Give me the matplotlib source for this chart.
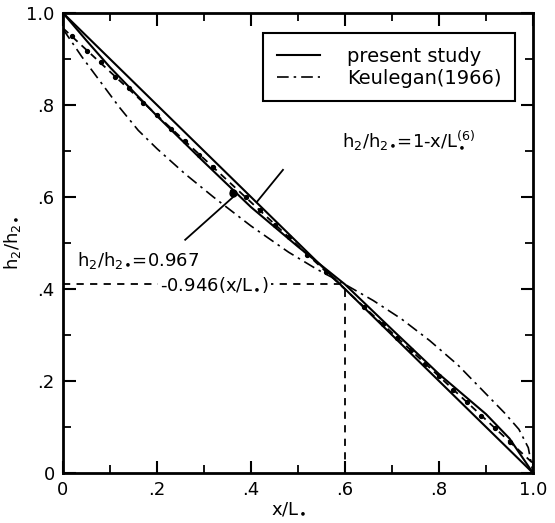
import matplotlib
matplotlib.use("Agg")
import matplotlib.pyplot as plt
import numpy as np

plt.rcParams['font.family'] = ['DejaVu Sans']
plt.rcParams['mathtext.default'] = 'regular'

# ---- data ----
x_present = [0.0, 0.05, 0.10, 0.20, 0.30, 0.40, 0.50, 0.60, 0.70, 0.80, 0.90, 0.95, 1.0]
y_present = [1.0, 0.94, 0.882, 0.776, 0.676, 0.578, 0.492, 0.41, 0.312, 0.215, 0.128, 0.075, 0.0]

x_keulegan = [0.0, 0.04, 0.08, 0.12, 0.16, 0.20, 0.26, 0.32, 0.40, 0.48, 0.54, 0.60,
              0.66, 0.72, 0.78, 0.84, 0.90, 0.94, 0.97, 0.99, 1.0]
y_keulegan = [0.965, 0.905, 0.85, 0.795, 0.745, 0.705, 0.65, 0.60, 0.537, 0.48, 0.443, 0.41,
              0.375, 0.335, 0.288, 0.235, 0.172, 0.13, 0.095, 0.055, 0.0]

x_eq6 = [0.0, 1.0]
y_eq6 = [1.0, 0.0]

x_fit = [0.0, 1.0]
y_fit = [0.967, 0.021]

x_points = [0.02, 0.05, 0.08, 0.11, 0.14, 0.17, 0.20, 0.23, 0.26, 0.29, 0.32, 0.36, 0.39,
            0.42, 0.45, 0.48, 0.52, 0.56, 0.64, 0.68, 0.71, 0.74, 0.77, 0.80, 0.83, 0.86,
            0.89, 0.92, 0.95]
y_points = [0.950, 0.918, 0.893, 0.861, 0.836, 0.805, 0.779, 0.748, 0.722, 0.692, 0.665, 0.612, 0.599,
            0.571, 0.540, 0.514, 0.474, 0.438, 0.361, 0.325, 0.294, 0.268, 0.238, 0.211, 0.181, 0.154,
            0.124, 0.098, 0.067]

x_cross = 0.6
y_cross = 0.41

ticks = [0.0, 0.2, 0.4, 0.6, 0.8, 1.0]
tick_labels = ['0', '.2', '.4', '.6', '.8', '1.0']
minor_ticks = [0.1, 0.3, 0.5, 0.7, 0.9]

BUL = r'\!\bullet\!'

# ---- figure ----
fig = plt.figure(figsize=(5.55, 5.23), dpi=100)
ax = fig.add_axes([63/555, 1-473/523, 470/555, 460/523])

lw = 1.5
ax.plot(x_eq6, y_eq6, color='black', lw=lw)
l1, = ax.plot(x_present, y_present, color='black', lw=lw, label='present study')
l2, = ax.plot(x_keulegan, y_keulegan, color='black', lw=1.2, linestyle=(0, (7, 3, 1.5, 3)),
              label='Keulegan(1966)')
ax.plot(x_fit, y_fit, color='black', lw=1.3, linestyle=(0, (4, 3)))
ax.plot(x_points, y_points, linestyle='none', marker='o', ms=2.8, color='black')
ax.plot([0.362], [0.608], linestyle='none', marker='o', ms=5, color='black')

# guide lines
ax.plot([0, x_cross], [y_cross, y_cross], color='black', lw=1.3, linestyle=(0, (4, 3.5)))
ax.plot([x_cross, x_cross], [0, y_cross], color='black', lw=1.3, linestyle=(0, (4, 3.5)))

# leader lines
ax.plot([0.26, 0.362], [0.507, 0.600], color='black', lw=1.3)
ax.plot([0.468, 0.413], [0.659, 0.590], color='black', lw=1.3)

fs = 13
ax.text(0.03, 0.463, r'h$_2$/h$_{2' + BUL + '}$=0.967', fontsize=fs, va='center', ha='left')
ax.text(0.206, 0.409, r'-0.946(x/L$_{' + BUL + '}$)', fontsize=fs, va='center', ha='left',
        bbox=dict(facecolor='white', edgecolor='none', pad=1.5))
ax.text(0.594, 0.724, r'h$_2$/h$_{2' + BUL + '}$=1-x/L$_{' + BUL + '}^{(6)}$', fontsize=fs,
        va='center', ha='left')

leg = ax.legend(handles=[l1, l2], loc='upper right',
                bbox_to_anchor=((515-63)/470, (473-33)/460), borderaxespad=0,
                fontsize=14, frameon=True, fancybox=False, edgecolor='black',
                handlelength=2.2, handletextpad=1.4, labelspacing=0.15,
                borderpad=0.7, framealpha=1)
leg.get_frame().set_linewidth(1.5)

ax.set_xlim(0, 1.0)
ax.set_ylim(0, 1.0)
ax.set_xticks(ticks)
ax.set_xticklabels(tick_labels)
ax.set_yticks(ticks)
ax.set_yticklabels(tick_labels)
ax.set_xticks(minor_ticks, minor=True)
ax.set_yticks(minor_ticks, minor=True)
ax.tick_params(which='major', direction='in', top=True, right=True, length=9, width=1.5,
               labelsize=fs, pad=6)
ax.tick_params(which='minor', direction='in', top=True, right=True, length=6, width=1.3)
for s in ax.spines.values():
    s.set_linewidth(2)

ax.set_xlabel(r'x/L$_{' + BUL + '}$', fontsize=fs)
ax.set_ylabel(r'h$_2$/h$_{2' + BUL + '}$', fontsize=fs)
ax.xaxis.set_label_coords(0.479, -0.058)
ax.yaxis.set_label_coords(-0.085, 0.5)

fig.savefig('out.png', dpi=100)
